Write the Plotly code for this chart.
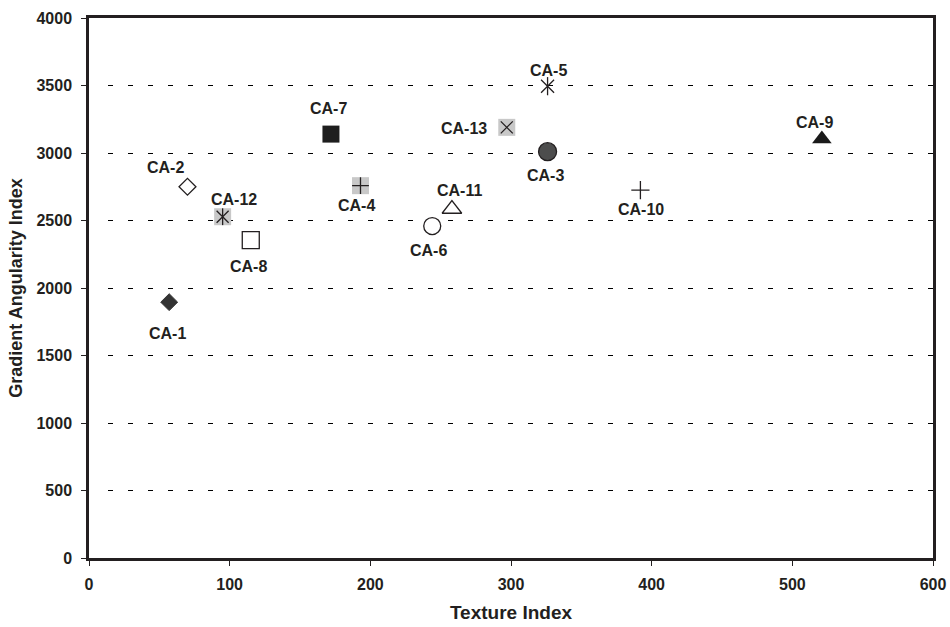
import plotly.graph_objects as go

# Sample names with their texture and gradient angularity indices
samples = ["CA-1", "CA-2", "CA-3", "CA-4", "CA-5", "CA-6", "CA-7",
           "CA-8", "CA-9", "CA-10", "CA-11", "CA-12", "CA-13"]
texture = [57, 70, 326, 193, 326, 244, 172, 115, 521, 392, 258, 95, 297]
angularity = [1895, 2750, 3010, 2758, 3495, 2459, 3140, 2355, 3103, 2725, 2585, 2528, 3190]

x_ticks = [0, 100, 200, 300, 400, 500, 600]
y_ticks = [0, 500, 1000, 1500, 2000, 2500, 3000, 3500, 4000]

INK = "#231f20"
GREY = "#c8c8c8"

# marker style per sample: (symbol, size, fill, outline colour, outline width)
style = {
    "CA-1": ("diamond", 13, "#333333", "#333333", 1),
    "CA-2": ("diamond", 13, "white", INK, 1.3),
    "CA-3": ("circle", 18, "#4d4d4d", INK, 1.3),
    "CA-4": ("square", 17, GREY, GREY, 0),
    "CA-5": ("x-thin-open", 13, None, INK, 1.3),
    "CA-6": ("circle", 17, "white", INK, 1.3),
    "CA-7": ("square", 17, "#1e1e1e", "#1e1e1e", 0),
    "CA-8": ("square", 17, "white", INK, 1.3),
    "CA-9": ("triangle-up", 17, "#1a1a1a", "#1a1a1a", 0),
    "CA-10": ("cross-thin-open", 13, None, INK, 1.3),
    "CA-11": ("triangle-up", 17, "white", INK, 1.3),
    "CA-12": ("square", 17, GREY, GREY, 0),
    "CA-13": ("square", 17, GREY, GREY, 0),
}

# line symbols drawn over the grey squares / star marks
overlays = {
    "CA-4": [("cross-thin-open", 12)],
    "CA-5": [("line-ns-open", 13)],
    "CA-12": [("x-thin-open", 12), ("line-ns-open", 12)],
    "CA-13": [("x-thin-open", 12)],
}

# label offsets in pixels from each marker (right, up)
label_shift = {
    "CA-1": (-2, -31), "CA-2": (-22, 19), "CA-3": (-2, -24), "CA-4": (-4, -20),
    "CA-5": (1, 16), "CA-6": (-4, -24), "CA-7": (-2, 26), "CA-8": (-2, -26),
    "CA-9": (-7, 17), "CA-10": (1, -19), "CA-11": (8, 19), "CA-12": (11, 17),
    "CA-13": (-43, -1),
}

fig = go.Figure()

for name, xv, yv in zip(samples, texture, angularity):
    sym, size, fill, lc, lw = style[name]
    marker = dict(symbol=sym, size=size, line=dict(color=lc, width=lw),
                  color=fill if fill is not None else lc)
    fig.add_trace(go.Scatter(x=[xv], y=[yv], mode="markers", marker=marker,
                             name=name, showlegend=False, hoverinfo="text",
                             hovertext=name))
    for osym, osize in overlays.get(name, []):
        fig.add_trace(go.Scatter(x=[xv], y=[yv], mode="markers",
                                 marker=dict(symbol=osym, size=osize, color=INK,
                                             line=dict(color=INK, width=1.3)),
                                 showlegend=False, hoverinfo="skip"))
    dx, dy = label_shift[name]
    fig.add_annotation(x=xv, y=yv, xref="x", yref="y", text=f"<b>{name}</b>",
                       showarrow=False, xshift=dx, yshift=dy,
                       font=dict(family="Liberation Sans, Arial, sans-serif",
                                 size=16, color=INK))

dash_pattern = "0px,19px" + ",5px,15px" * 45

fig.update_layout(
    width=950, height=627,
    margin=dict(l=89, r=17, t=18, b=69),
    paper_bgcolor="white", plot_bgcolor="white",
    font=dict(family="Liberation Sans, Arial, sans-serif", color=INK, size=16),
    xaxis=dict(
        range=[0, 600], tickvals=x_ticks, ticktext=[f"<b>{v}</b>" for v in x_ticks],
        showgrid=False, zeroline=False, automargin=False,
        showline=True, linecolor=INK, linewidth=2.5, mirror=True,
        ticks="outside", ticklen=5, tickwidth=1.2, tickcolor=INK,
        ticklabelstandoff=5,
        title=dict(text="<b>Texture Index</b>", font=dict(size=19), standoff=14),
    ),
    yaxis=dict(
        range=[0, 4000], tickvals=y_ticks, ticktext=[f"<b>{v}</b>" for v in y_ticks],
        showgrid=True, gridcolor="black", gridwidth=1, griddash=dash_pattern,
        zeroline=False, automargin=False,
        showline=True, linecolor=INK, linewidth=2.5, mirror=True,
        ticks="outside", ticklen=5, tickwidth=1.2, tickcolor=INK,
        ticklabelstandoff=6,
        title=dict(text="<b>Gradient Angularity Index</b>", font=dict(size=18), standoff=10),
    ),
)

fig.write_html("out.html")
